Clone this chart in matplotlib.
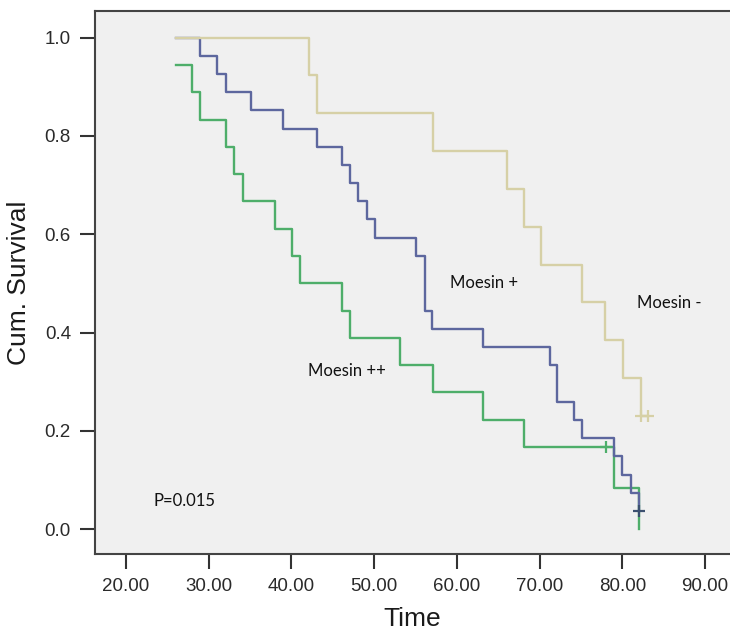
import numpy as np
import matplotlib.pyplot as plt
from matplotlib.ticker import FormatStrFormatter

# Kaplan-Meier steps
neg_time = [26.0, 42.1, 43.1, 57.1, 66.1, 68.1, 70.2, 75.1, 77.9, 80.1, 82.2, 83.1]
neg_surv = [1.0, 0.923, 0.846, 0.769, 0.692, 0.615, 0.538, 0.462, 0.385, 0.308, 0.231, 0.231]
neg_cens_t = [82.3, 83.1]
neg_cens_s = [0.231, 0.231]

pos_time = [26.0, 29.0, 31.0, 32.1, 35.1, 39.0, 43.1, 46.1, 47.1, 48.1, 49.1, 50.1,
            55.0, 56.1, 57.0, 63.2, 71.2, 72.1, 74.1, 75.1, 79.0, 80.0, 81.0, 82.0]
pos_surv = [1.0, 0.963, 0.926, 0.889, 0.852, 0.815, 0.778, 0.741, 0.704, 0.667, 0.630, 0.593,
            0.556, 0.444, 0.407, 0.370, 0.333, 0.259, 0.222, 0.185, 0.148, 0.111, 0.074, 0.037]
pos_cens_t = [82.0]
pos_cens_s = [0.037]

pp_time = [26.0, 28.0, 29.0, 32.1, 33.1, 34.1, 38.0, 40.1, 41.0, 46.1, 47.1, 53.1,
           57.1, 63.2, 68.1, 79.0, 82.0]
pp_surv = [0.944, 0.889, 0.833, 0.778, 0.722, 0.667, 0.611, 0.556, 0.5, 0.444, 0.389, 0.333,
           0.278, 0.222, 0.167, 0.083, 0.0]
pp_cens_t = [78.0]
pp_cens_s = [0.167]

x_ticks = [20, 30, 40, 50, 60, 70, 80, 90]
y_ticks = [0.0, 0.2, 0.4, 0.6, 0.8, 1.0]

c_neg = "#d6d0a6"
c_pos = "#5d679e"
c_pp = "#4eae6a"

fig = plt.figure(figsize=(7.3, 6.4), dpi=100)
ax = fig.add_axes([0.1295, 0.134, 0.8705, 0.8488])
ax.set_facecolor("#f0f0f0")

ax.step(pp_time, pp_surv, where="post", color=c_pp, lw=1.7)
ax.step(pos_time, pos_surv, where="post", color=c_pos, lw=1.7)
ax.step(neg_time, neg_surv, where="post", color=c_neg, lw=1.7)
ax.plot(pp_cens_t, pp_cens_s, "+", color=c_pp, ms=9, mew=1.6)
ax.plot(pos_cens_t, pos_cens_s, "+", color="#3c5070", ms=9, mew=1.6)
ax.plot(neg_cens_t, neg_cens_s, "+", color=c_neg, ms=9, mew=1.6)

ax.set_xlim(16.2, 93.0)
ax.set_ylim(-0.051, 1.054)
ax.set_xticks(x_ticks)
ax.set_yticks(y_ticks)
ax.xaxis.set_major_formatter(FormatStrFormatter("%.2f"))
ax.yaxis.set_major_formatter(FormatStrFormatter("%.1f"))

for lab in ax.get_xticklabels() + ax.get_yticklabels():
    lab.set_family("Liberation Sans")
    lab.set_fontsize(13.5)
    lab.set_color("#2a2a2a")
ax.tick_params(direction="out", length=11, width=1.5, color="#333333", pad=6)

for side in ["left", "bottom", "top"]:
    ax.spines[side].set_color("#444444")
    ax.spines[side].set_linewidth(1.5)
ax.spines["right"].set_visible(False)

ax.set_xlabel("Time", family="Liberation Sans", fontsize=19, color="#1a1a1a", labelpad=9)
ax.set_ylabel("Cum. Survival", family="Liberation Sans", fontsize=19, color="#1a1a1a", labelpad=10)

lbl = dict(family="Lato", fontsize=12, color="#111111", ha="left", va="center")
ax.text(59.2, 0.501, "Moesin +", **lbl)
ax.text(81.7, 0.461, "Moesin -", **lbl)
ax.text(42.0, 0.322, "Moesin ++", **lbl)
ax.text(23.3, 0.058, "P=0.015", **lbl)

fig.savefig("out.png", dpi=100)
